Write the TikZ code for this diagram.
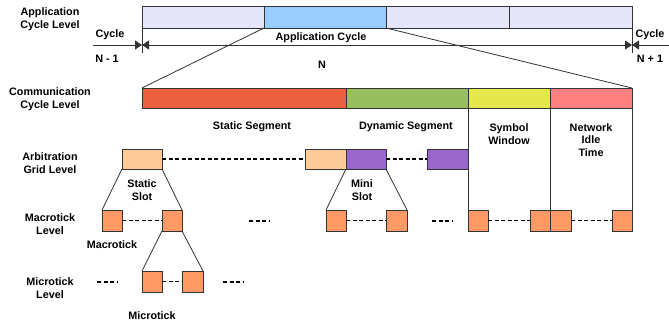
\documentclass[tikz,border=0pt]{standalone}
\usepackage{fontspec}
\setmainfont{Liberation Sans}
\usetikzlibrary{arrows.meta}
\definecolor{lav}{HTML}{E6E6FA}
\definecolor{lblue}{HTML}{99CCFF}
\definecolor{cred}{HTML}{EB613F}
\definecolor{cgreen}{HTML}{97BF5F}
\definecolor{cyellow}{HTML}{E6E64D}
\definecolor{cpink}{HTML}{FF8080}
\definecolor{peach}{HTML}{FFCC99}
\definecolor{purp}{HTML}{9966CC}
\definecolor{tick}{HTML}{FF9966}
\definecolor{linec}{HTML}{333333}
\begin{document}
\begin{tikzpicture}[x=1pt,y=-1pt,
  seg/.style={draw=linec, line width=0.8pt, inner sep=0pt, outer sep=0pt, anchor=north west},
  lbl/.style={font=\fontsize{10.8}{12.8}\selectfont\bfseries, align=center, inner sep=0pt},
  dots/.style={line width=1.7pt, dash pattern=on 4pt off 2.5pt},
  conn/.style={draw=linec, line width=0.8pt},
  tip/.style={-{Triangle[length=7pt,width=9pt]}}
]
\useasboundingbox (0,0) rectangle (669,324);
% application cycle level
\node[seg, fill=lav, minimum width=122pt, minimum height=22pt] (a1) at (142,6) {};
\node[seg, fill=lblue, minimum width=122pt, minimum height=22pt] (a2) at (264,6) {};
\node[seg, fill=lav, minimum width=123pt, minimum height=22pt] (a3) at (386,6) {};
\node[seg, fill=lav, minimum width=123pt, minimum height=22pt] (a4) at (509,6) {};
% cycle line
\coordinate (l0) at (93,45);
\coordinate (l1) at (142,45);
\coordinate (l2) at (632,45);
\coordinate (l3) at (669,45);
\coordinate (e1) at (142,53);
\coordinate (e2) at (632,53);
\draw[conn] (a1.south west) -- (e1);
\draw[conn] (a4.south east) -- (e2);
\draw[conn, tip] (l0) -- (l1);
\draw[conn, {Triangle[length=7pt,width=9pt]}-{Triangle[length=7pt,width=9pt]}] (l1) -- (l2);
\draw[conn, tip] (l3) -- (l2);
% communication cycle level
\node[seg, fill=cred, minimum width=204pt, minimum height=20pt] (c1) at (142,88) {};
\node[seg, fill=cgreen, minimum width=122pt, minimum height=20pt] (c2) at (346,88) {};
\node[seg, fill=cyellow, minimum width=82pt, minimum height=20pt] (c3) at (468,88) {};
\node[seg, fill=cpink, minimum width=82pt, minimum height=20pt] (c4) at (550,88) {};
\draw[conn] (a2.south west) -- (c1.north west);
\draw[conn] (a2.south east) -- (c4.north east);
% arbitration grid
\node[seg, fill=peach, minimum width=40pt, minimum height=20pt] (s1) at (122,149) {};
\node[seg, fill=peach, minimum width=41pt, minimum height=20pt] (s2) at (305,149) {};
\node[seg, fill=purp, minimum width=40pt, minimum height=20pt] (m1) at (346,149) {};
\node[seg, fill=purp, minimum width=41pt, minimum height=20pt] (m2) at (427,149) {};
\draw[dots] (s1.east) -- (s2.west);
\draw[dots] (m1.east) -- (m2.west);
% macroticks
\node[seg, fill=tick, minimum width=20pt, minimum height=21pt] (t1) at (102,210) {};
\node[seg, fill=tick, minimum width=20pt, minimum height=21pt] (t2) at (162,210) {};
\node[seg, fill=tick, minimum width=20pt, minimum height=21pt] (t3) at (326,210) {};
\node[seg, fill=tick, minimum width=21pt, minimum height=21pt] (t4) at (386,210) {};
\node[seg, fill=tick, minimum width=20pt, minimum height=21pt] (t5) at (468,210) {};
\node[seg, fill=tick, minimum width=20pt, minimum height=21pt] (t6) at (530,210) {};
\node[seg, fill=tick, minimum width=21pt, minimum height=21pt] (t7) at (550,210) {};
\node[seg, fill=tick, minimum width=20pt, minimum height=21pt] (t8) at (612,210) {};
\draw[dots] (t1.east) -- (t2.west);
\draw[dots] (t3.east) -- (t4.west);
\draw[dots] (t5.east) -- (t6.west);
\draw[dots] (t7.east) -- (t8.west);
\draw[conn] (s1.south west) -- (t1.north west);
\draw[conn] (s1.south east) -- (t2.north east);
\draw[conn] (m1.south west) -- (t3.north west);
\draw[conn] (m1.south east) -- (t4.north east);
\draw[conn] (c3.south west) -- (t5.north west);
\draw[conn] (c4.south west) -- (t7.north west);
\draw[conn] (c4.south east) -- (t8.north east);
\coordinate (d1a) at (249,221); \coordinate (d1b) at (270,221);
\coordinate (d2a) at (432,221); \coordinate (d2b) at (453,221);
\draw[dots] (d1a) -- (d1b);
\draw[dots] (d2a) -- (d2b);
% microticks
\node[seg, fill=tick, minimum width=20pt, minimum height=21pt] (u1) at (142,271) {};
\node[seg, fill=tick, minimum width=21pt, minimum height=21pt] (u2) at (182,271) {};
\draw[dots] (u1.east) -- (u2.west);
\draw[conn] (t2.south west) -- (u1.north west);
\draw[conn] (t2.south east) -- (u2.north east);
\coordinate (d3a) at (97,282); \coordinate (d3b) at (118,282);
\coordinate (d4a) at (223,282); \coordinate (d4b) at (244,282);
\draw[dots] (d3a) -- (d3b);
\draw[dots] (d4a) -- (d4b);
% labels
\node[lbl] (L1) at (50,19) {Application\\Cycle Level};
\node[lbl] (L2) at (50,99) {Communication\\Cycle Level};
\node[lbl] (L3) at (50,163) {Arbitration\\Grid Level};
\node[lbl] (L4) at (50,224) {Macrotick\\Level};
\node[lbl] (L5) at (50,288) {Microtick\\Level};
\node[lbl] (cl) at (110,35) {Cycle};
\node[lbl] (nl) at (107,59) {N - 1};
\node[lbl] (cr) at (650,35) {Cycle};
\node[lbl] (nr) at (650,59) {N + 1};
\node[lbl] (ac) at (321,38) {Application Cycle};
\node[lbl] (nn) at (322,65) {N};
\node[lbl] (ss) at (252,127) {Static Segment};
\node[lbl] (ds) at (406,127) {Dynamic Segment};
\node[lbl] (sw) at (509,134) {Symbol\\Window};
\node[lbl] (ni) at (591,140) {Network\\Idle\\Time};
\node[lbl] (sl) at (142,190) {Static\\Slot};
\node[lbl] (ms) at (362,190) {Mini\\Slot};
\node[lbl] (mt) at (112,245) {Macrotick};
\node[lbl] (ut) at (152,316) {Microtick};
\end{tikzpicture}
\end{document}
